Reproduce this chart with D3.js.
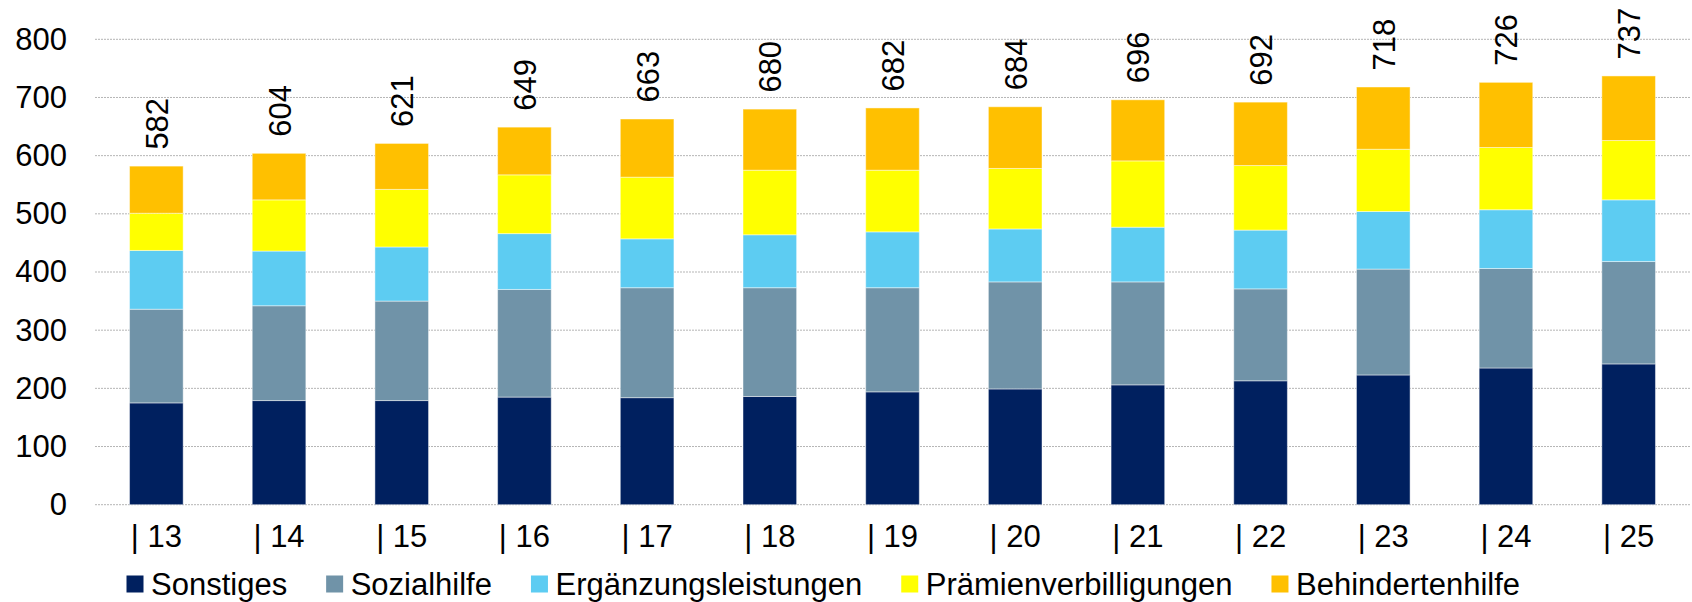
<!DOCTYPE html>
<html>
<head>
<meta charset="utf-8">
<script src="https://cdn.jsdelivr.net/npm/d3@7"></script>
<style>
  html, body { margin: 0; padding: 0; background: #ffffff; }
  svg { display: block; font-family: "Liberation Sans", Arial, sans-serif; }
</style>
</head>
<body>
<svg id="chart" width="1692" height="602"></svg>
<script>
const categories = ["13","14","15","16","17","18","19","20","21","22","23","24","25"];
const seriesNames = ["Sonstiges","Sozialhilfe","Ergänzungsleistungen","Prämienverbilligungen","Behindertenhilfe"];
const sonstiges   = [175,179,179,185,184,186,194,199,206,213,223,235,242];
const sozialhilfe = [161,163,171,185,189,187,179,184,177,158,182,171,176];
const ergaenzung  = [101, 94, 93, 96, 84, 91, 96, 91, 94,101, 99,101,106];
const praemien    = [ 64, 88, 99,101,106,111,106,104,114,111,107,107,102];
const behinderten = [ 81, 80, 79, 82,100,105,107,106,105,109,107,112,111];
const totals      = [582,604,621,649,663,680,682,684,696,692,718,726,737];
const yTicks = [0,100,200,300,400,500,600,700,800];
const colors = ["#00205F","#7093A8","#5DCCF2","#FFFF00","#FFC000"];

(function () {
const svg = d3.select("#chart");
const mLeft = 95, mRight = 1690, mTop = 39.3, mBottom = 504.7;
const fs = 31;

const table = categories.map((c, i) => ({
  cat: c,
  Sonstiges: sonstiges[i],
  Sozialhilfe: sozialhilfe[i],
  "Ergänzungsleistungen": ergaenzung[i],
  "Prämienverbilligungen": praemien[i],
  Behindertenhilfe: behinderten[i],
  total: totals[i]
}));

const x = d3.scaleBand().domain(categories).range([mLeft, mRight]).paddingInner(0.563).paddingOuter(0.2815);
const y = d3.scaleLinear().domain([0, 800]).range([mBottom, mTop]);
const color = d3.scaleOrdinal().domain(seriesNames).range(colors);

// gridlines
svg.append("g").selectAll("line").data(yTicks).join("line")
  .attr("x1", mLeft).attr("x2", mRight)
  .attr("y1", d => y(d)).attr("y2", d => y(d))
  .attr("stroke", "#b5b5b5").attr("stroke-width", 1)
  .attr("stroke-dasharray", "2,1");

// y axis labels
const yAxis = svg.append("g").attr("transform", `translate(${mLeft},0)`)
  .call(d3.axisLeft(y).tickValues(yTicks).tickSize(0).tickPadding(28));
yAxis.select(".domain").remove();
yAxis.selectAll("text").attr("font-size", fs).attr("font-family", "Liberation Sans, Arial, sans-serif").attr("fill", "#000");

// stacked bars
const stack = d3.stack().keys(seriesNames)(table);
svg.append("g").selectAll("g").data(stack).join("g")
  .attr("fill", d => color(d.key))
  .selectAll("rect").data(d => d).join("rect")
  .attr("x", d => x(d.data.cat))
  .attr("width", x.bandwidth())
  .attr("y", d => y(d[1]))
  .attr("height", d => y(d[0]) - y(d[1]))
  .attr("stroke", "rgba(255,255,255,0.45)")
  .attr("stroke-width", 1);

// total labels (rotated)
svg.append("g").selectAll("text").data(table).join("text")
  .attr("transform", d => `translate(${x(d.cat) + x.bandwidth() / 2 + 1},${y(d.total) - 16.5}) rotate(-90)`)
  .attr("text-anchor", "start")
  .attr("dominant-baseline", "central")
  .attr("font-size", fs)
  .attr("fill", "#000")
  .text(d => d.total);

// x axis labels
const xAxis = svg.append("g").attr("transform", `translate(0,${mBottom})`)
  .call(d3.axisBottom(x).tickSize(0).tickFormat(d => "| " + d));
xAxis.select(".domain").remove();
xAxis.selectAll("text").attr("y", 42).attr("dy", null)
  .attr("font-size", fs).attr("font-family", "Liberation Sans, Arial, sans-serif").attr("fill", "#000");

// legend
const legend = svg.append("g");
let lx = 126.5;
seriesNames.forEach((name) => {
  legend.append("rect").attr("x", lx).attr("y", 575.5).attr("width", 17).attr("height", 17).attr("fill", color(name));
  const t = legend.append("text").attr("x", lx + 24.5).attr("y", 594.5)
    .attr("font-size", fs).attr("fill", "#000").text(name);
  lx = lx + 24.5 + t.node().getComputedTextLength() + 39;
});
})();
</script>
</body>
</html>
